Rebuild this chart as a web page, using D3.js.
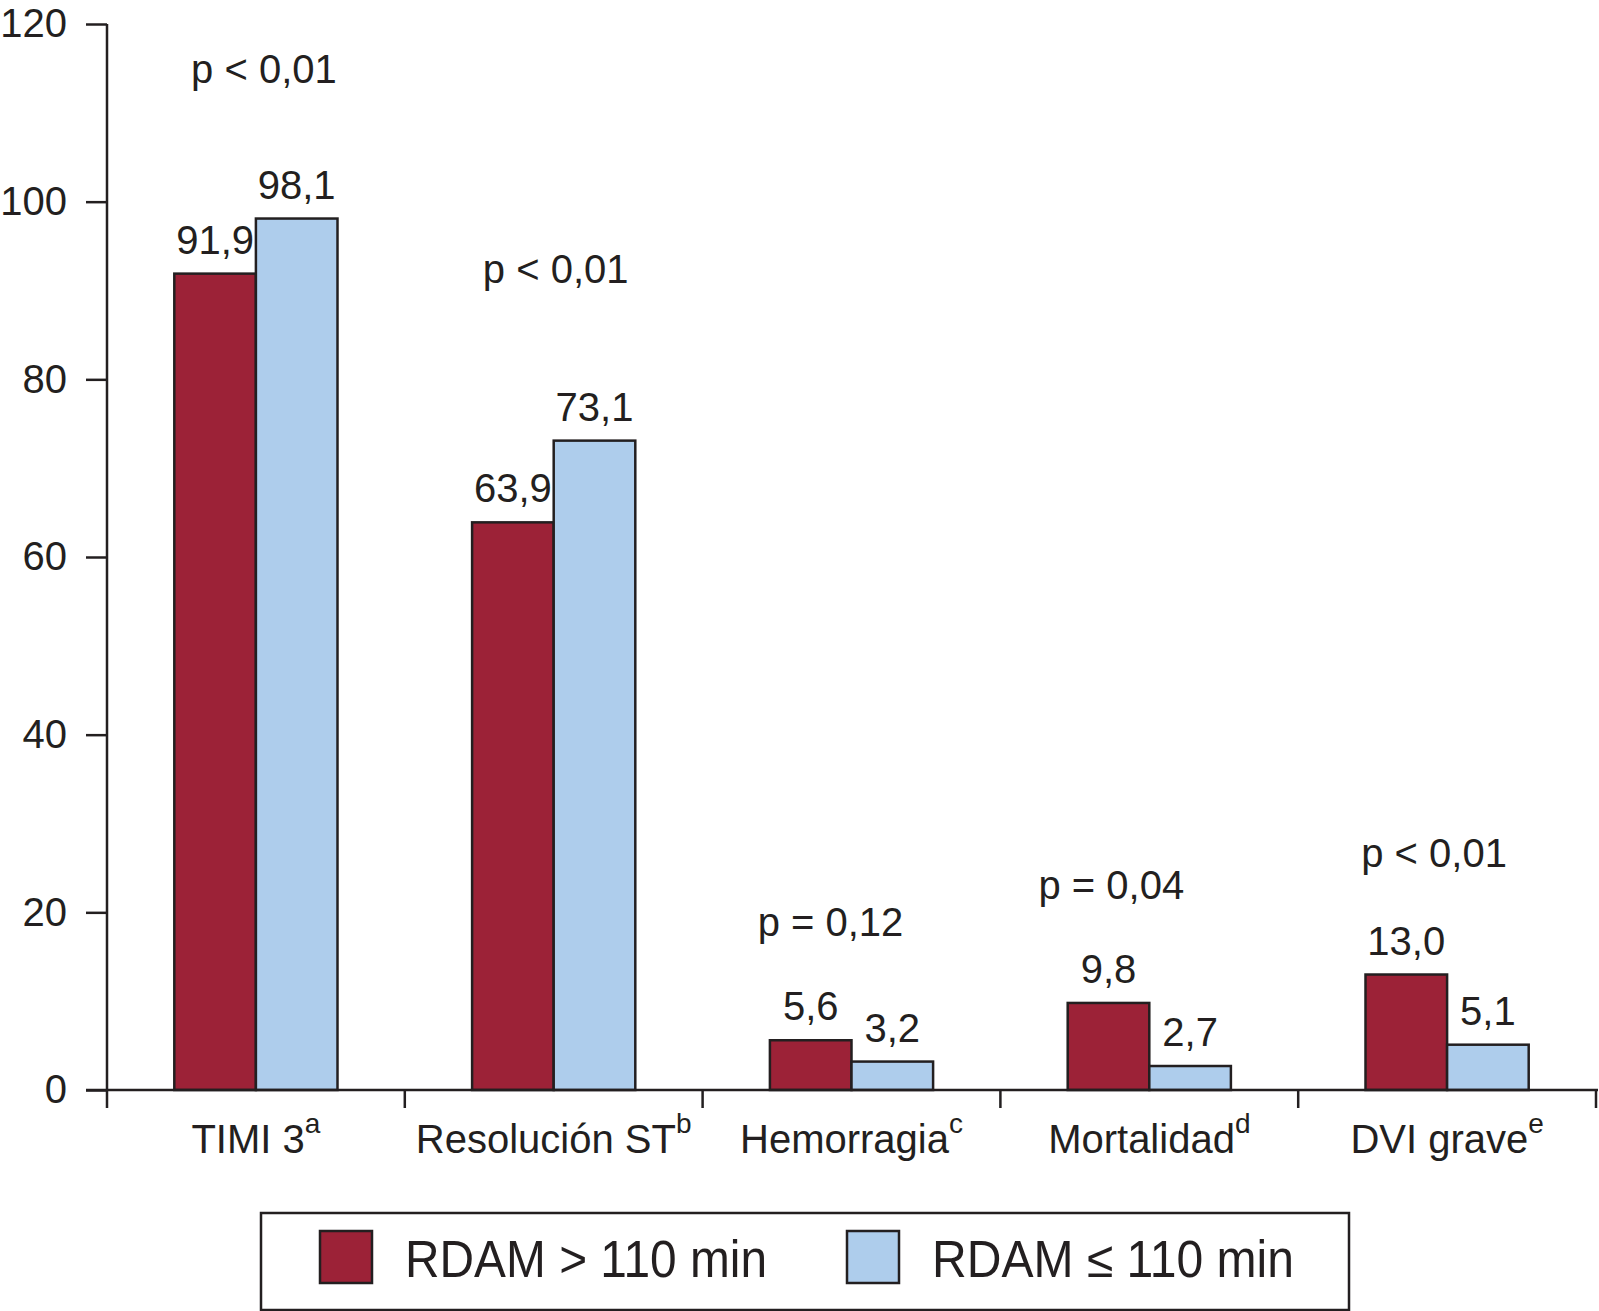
<!DOCTYPE html>
<html>
<head>
<meta charset="utf-8">
<script src="https://cdn.jsdelivr.net/npm/d3@7"></script>
<style>
  body { margin: 0; background: #fff; }
  svg text { font-family: "Liberation Sans", Arial, sans-serif; fill: #231f20; }
</style>
</head>
<body>
<div id="chart"></div>
<script>
// Datos
const categories = ['TIMI 3', 'Resolución ST', 'Hemorragia', 'Mortalidad', 'DVI grave'];
const superscripts = ['a', 'b', 'c', 'd', 'e'];
const seriesNames = ['RDAM > 110 min', 'RDAM ≤ 110 min'];
const rdamOver = [91.9, 63.9, 5.6, 9.8, 13.0];
const rdamUnder = [98.1, 73.1, 3.2, 2.7, 5.1];
const pValues = ['p < 0,01', 'p < 0,01', 'p = 0,12', 'p = 0,04', 'p < 0,01'];
const yTicks = [0, 20, 40, 60, 80, 100, 120];

// altura (en unidades del eje) y desplazamiento de los textos de p
const pLevel = [113.4, 90.8, 17.3, 21.5, 25.1];
const pShift = [8, 2, -21, -38, -13];

const colors = ['#9c2237', '#aecdec'];
const ink = '#231f20';

const width = 1599, height = 1311;
const plot = { left: 107, right: 1596, top: 24, bottom: 1090 };

const svg = d3.select('#chart').append('svg')
    .attr('width', width)
    .attr('height', height);

const x = d3.scaleBand().domain(categories).range([plot.left, plot.right]).padding(0);
const bw = x.bandwidth();
const x1 = d3.scaleBand().domain(seriesNames).range([bw * 0.226, bw * 0.774]).padding(0);
const y = d3.scaleLinear().domain([0, 120]).range([plot.bottom, plot.top]);

const fmt = d3.formatLocale({ decimal: ',', thousands: '.', grouping: [3], currency: ['', '€'] }).format('.1f');

// Eje Y
const yAxis = svg.append('g')
    .attr('transform', `translate(${plot.left},0)`)
    .call(d3.axisLeft(y).tickValues(yTicks).tickSize(21).tickPadding(19));
yAxis.select('.domain').remove();
yAxis.selectAll('.tick line').attr('stroke', ink).attr('stroke-width', 2.5);
yAxis.selectAll('.tick text')
    .style('font-size', '40px')
    .attr('fill', ink);

svg.append('line')
    .attr('x1', plot.left).attr('x2', plot.left)
    .attr('y1', y(120)).attr('y2', plot.bottom + 18)
    .attr('stroke', ink).attr('stroke-width', 2.5);

// Barras
const data = categories.map((c, i) => ({
    cat: c,
    values: [
        { key: seriesNames[0], value: rdamOver[i] },
        { key: seriesNames[1], value: rdamUnder[i] }
    ]
}));

const groups = svg.append('g').selectAll('g')
    .data(data)
    .join('g')
    .attr('transform', d => `translate(${x(d.cat)},0)`);

groups.selectAll('rect')
    .data(d => d.values)
    .join('rect')
    .attr('x', d => x1(d.key))
    .attr('y', d => y(d.value))
    .attr('width', x1.bandwidth())
    .attr('height', d => y(0) - y(d.value))
    .attr('fill', (d, i) => colors[i])
    .attr('stroke', ink)
    .attr('stroke-width', 2.5);

groups.selectAll('text.val')
    .data(d => d.values)
    .join('text')
    .attr('class', 'val')
    .attr('x', d => x1(d.key) + x1.bandwidth() / 2)
    .attr('y', d => y(d.value) - 20)
    .attr('text-anchor', 'middle')
    .style('font-size', '40px')
    .text(d => fmt(d.value));

// p valores
svg.append('g').selectAll('text')
    .data(pValues)
    .join('text')
    .attr('x', (d, i) => x(categories[i]) + bw / 2 + pShift[i])
    .attr('y', (d, i) => y(pLevel[i]))
    .attr('text-anchor', 'middle')
    .style('font-size', '40px')
    .text(d => d);

// Eje X
svg.append('line')
    .attr('x1', plot.left - 21).attr('x2', width - 1)
    .attr('y1', y(0)).attr('y2', y(0))
    .attr('stroke', ink).attr('stroke-width', 2.5);

const bounds = categories.slice(1).map(c => x(c)).concat([x.range()[1]]);
svg.append('g').selectAll('line')
    .data(bounds)
    .join('line')
    .attr('x1', d => d).attr('x2', d => d)
    .attr('y1', y(0)).attr('y2', y(0) + 18)
    .attr('stroke', ink).attr('stroke-width', 2.5);

const catLabels = svg.append('g').selectAll('text')
    .data(categories)
    .join('text')
    .attr('x', d => x(d) + bw / 2)
    .attr('y', y(0) + 63)
    .attr('text-anchor', 'middle')
    .style('font-size', '40px');
catLabels.append('tspan').text(d => d);
catLabels.append('tspan')
    .attr('dy', -20)
    .style('font-size', '28px')
    .text((d, i) => superscripts[i]);

// Leyenda
const legend = svg.append('g');
legend.append('rect')
    .attr('x', 261).attr('y', 1213)
    .attr('width', 1088).attr('height', 97)
    .attr('fill', '#fff')
    .attr('stroke', ink).attr('stroke-width', 2.5);

const legendX = [320, 847];
seriesNames.forEach((name, i) => {
    legend.append('rect')
        .attr('x', legendX[i]).attr('y', 1231)
        .attr('width', 52).attr('height', 52)
        .attr('fill', colors[i])
        .attr('stroke', ink).attr('stroke-width', 2.5);
    legend.append('text')
        .attr('x', legendX[i] + 85)
        .attr('y', 1277)
        .attr('textLength', 362)
        .attr('lengthAdjust', 'spacingAndGlyphs')
        .style('font-size', '51px')
        .text(name);
});
</script>
</body>
</html>
